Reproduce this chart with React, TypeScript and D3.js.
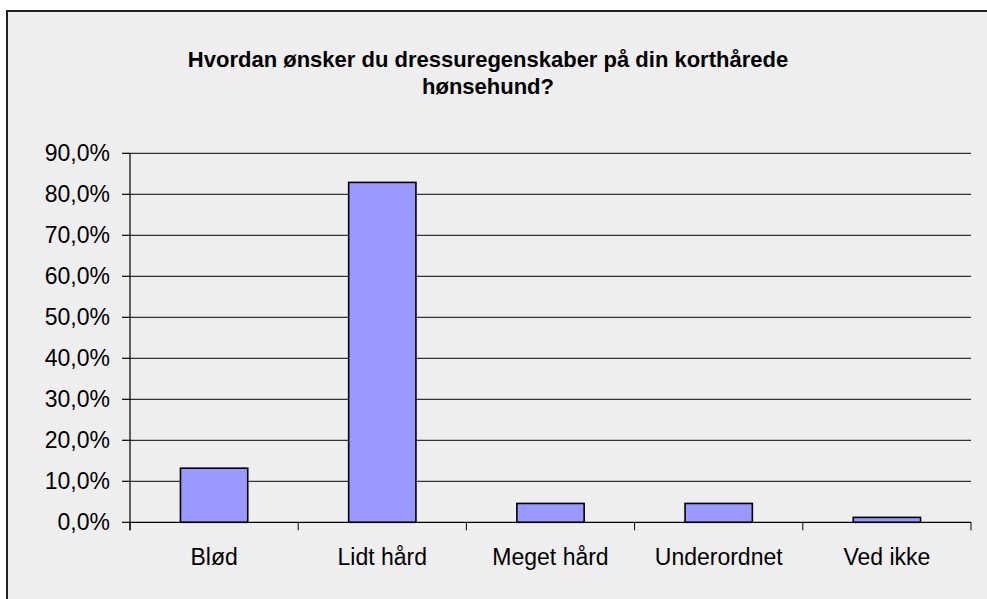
import React from "react";
import * as d3 from "d3";

const categories = ["Blød", "Lidt hård", "Meget hård", "Underordnet", "Ved ikke"];
const values = [0.132, 0.829, 0.046, 0.046, 0.012];
const yTicks = [0, 0.1, 0.2, 0.3, 0.4, 0.5, 0.6, 0.7, 0.8, 0.9];
const titleLines = ["Hvordan ønsker du dressuregenskaber på din korthårede", "hønsehund?"];

const W = 987;
const H = 599;
const plot = { left: 130, right: 971, top: 153.3, bottom: 522.3 };

const locale = d3.formatLocale({ decimal: ",", thousands: ".", grouping: [3], currency: ["", " kr."] });
const fmt = locale.format(".1%");

export default function App() {
  const x = d3
    .scaleBand<string>()
    .domain(categories)
    .range([plot.left, plot.right])
    .paddingInner(0.6)
    .paddingOuter(0.3);
  const y = d3.scaleLinear().domain([0, 0.9]).range([plot.bottom, plot.top]);
  const step = x.step();
  const boundaries = d3.range(categories.length + 1).map((i) => plot.left + i * step);
  const font = "'Liberation Sans', Arial, Helvetica, sans-serif";

  return (
    <svg
      width={W}
      height={H}
      style={{ position: "absolute", left: 0, top: 0, display: "block" }}
      fontFamily={font}
    >
      <rect x={0} y={0} width={W} height={H} fill="#ffffff" />
      <rect x={7} y={11} width={W + 20} height={H + 20} fill="#eeeeee" stroke="#222" strokeWidth={2} />
      {titleLines.map((t, i) => (
        <text key={i} x={488} y={67 + i * 27} textAnchor="middle" fontSize={22} fontWeight="bold" fill="#000">
          {t}
        </text>
      ))}
      {/* gridlines */}
      {yTicks.slice(1).map((v) => (
        <line key={v} x1={plot.left} x2={plot.right} y1={y(v)} y2={y(v)} stroke="#333" strokeWidth={1.2} />
      ))}
      {/* y axis */}
      <line x1={plot.left} x2={plot.left} y1={plot.top} y2={plot.bottom + 8} stroke="#000" strokeWidth={1.2} />
      {yTicks.map((v) => (
        <g key={v}>
          <line x1={plot.left - 8} x2={plot.left} y1={y(v)} y2={y(v)} stroke="#000" strokeWidth={1.2} />
          <text x={110} y={y(v)} dy="0.35em" textAnchor="end" fontSize={23} fill="#000">
            {fmt(v)}
          </text>
        </g>
      ))}
      {/* bars */}
      {categories.map((c, i) => (
        <rect
          key={c}
          x={x(c)}
          y={y(values[i])}
          width={x.bandwidth()}
          height={plot.bottom - y(values[i])}
          fill="#9999ff"
          stroke="#000"
          strokeWidth={1.6}
        />
      ))}
      {/* x axis */}
      <line x1={plot.left} x2={plot.right} y1={plot.bottom} y2={plot.bottom} stroke="#000" strokeWidth={1.2} />
      {boundaries.map((b, i) => (
        <line key={i} x1={b} x2={b} y1={plot.bottom} y2={plot.bottom + 8} stroke="#000" strokeWidth={1} />
      ))}
      {categories.map((c) => (
        <text key={c} x={(x(c) as number) + x.bandwidth() / 2} y={565} textAnchor="middle" fontSize={23} fill="#000">
          {c}
        </text>
      ))}
    </svg>
  );
}
